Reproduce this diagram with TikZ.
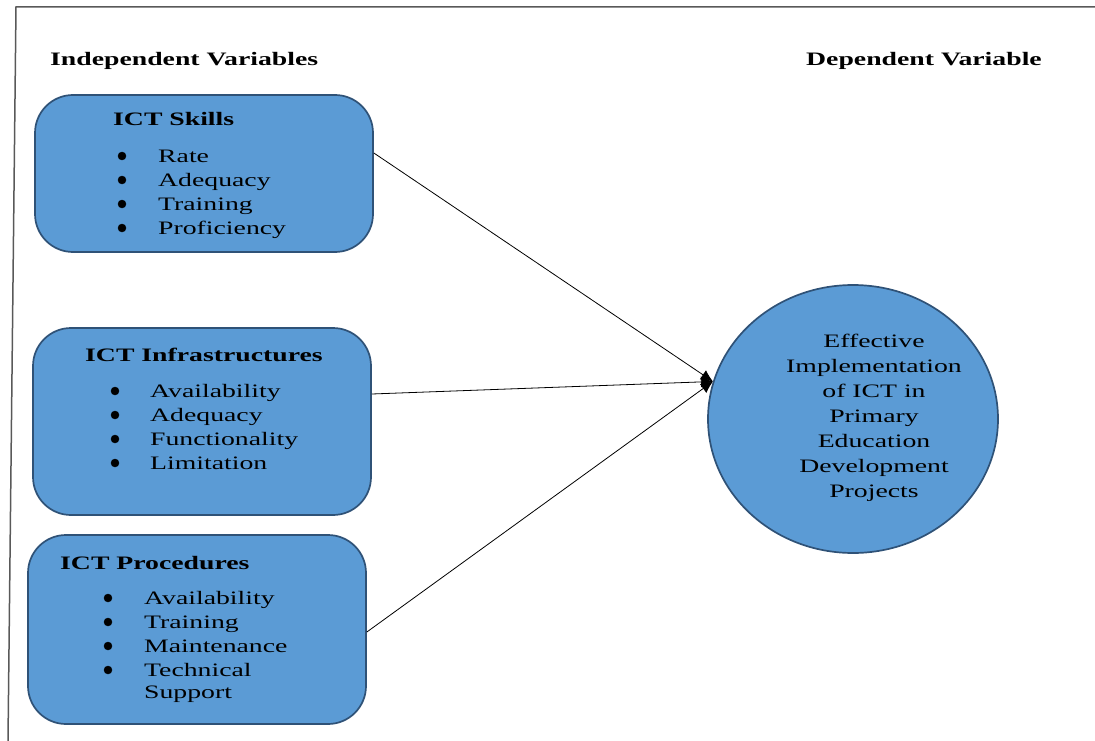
\documentclass[tikz,border=0pt]{standalone}
\usepackage{fontspec}
\setmainfont[FakeStretch=1.46]{Liberation Serif}
\usetikzlibrary{shapes.geometric,arrows.meta}
\definecolor{boxfill}{HTML}{5B9BD5}
\definecolor{boxline}{HTML}{2F5277}
\begin{document}
\begin{tikzpicture}[x=1pt, y=-1pt,
  varbox/.style={draw=boxline, line width=1.7pt, fill=boxfill, rounded corners=38pt, minimum width=338pt, inner sep=0pt},
  dvcircle/.style={ellipse, draw=boxline, line width=1.7pt, fill=boxfill, minimum width=290pt, minimum height=268pt, inner sep=0pt},
  txt/.style={anchor=base west, inner sep=0pt, font=\fontsize{19}{24.5}\selectfont},
  head/.style={txt, font=\fontsize{19}{24.5}\selectfont\bfseries},
  link/.style={black, line width=0.8pt, -{Latex[length=12pt,width=11pt]}}]
\useasboundingbox (0,0) rectangle (1095,741);
% frame
\draw[gray!70!black, line width=1.5pt] (1095,7) -- (16,7) -- (8,741);
\node[head] (indep) at (50,66) {Independent Variables};
\node[head] (dep) at (806,66) {Dependent Variable};
% boxes
\node[varbox, minimum height=157pt] (skills) at (204,173.5) {};
\node[varbox, minimum height=187pt] (infra) at (202,421.5) {};
\node[varbox, minimum height=189pt] (proc) at (197,629.5) {};
\node[dvcircle] (dv) at (853,419) {};
% ICT Skills
\node[head] (skillsh) at (113,126) {ICT Skills};
\foreach \y/\t in {162/Rate, 186/Adequacy, 210/Training, 234/Proficiency}{
  \filldraw[black] (122,\y-6) circle (4pt);
  \node[txt] at (158,\y) {\t};
}
% ICT Infrastructures
\node[head] (infrah) at (85,361) {ICT Infrastructures};
\foreach \y/\t in {397/Availability, 421/Adequacy, 445/Functionality, 469/Limitation}{
  \filldraw[black] (115,\y-6) circle (4pt);
  \node[txt] at (150,\y) {\t};
}
% ICT Procedures
\node[head] (proch) at (60,569) {ICT Procedures};
\foreach \y/\t in {604/Availability, 628/Training, 652/Maintenance, 676/Technical}{
  \filldraw[black] (108,\y-6) circle (4pt);
  \node[txt] at (144,\y) {\t};
}
\node[txt] at (144,698) {Support};
% dependent variable
\node[align=center, inner sep=0pt, font=\fontsize{19}{25}\selectfont] (dvtext) at (874,418)
  {Effective\\Implementation\\of ICT in\\Primary\\Education\\Development\\Projects};
% links
\draw[link] ([yshift=20.5pt]skills.east) -- (dv.165);
\draw[link] ([yshift=27.5pt]infra.east) -- (dv.165);
\draw[link] ([yshift=-2.5pt]proc.east) -- (dv.165);
\end{tikzpicture}
\end{document}
